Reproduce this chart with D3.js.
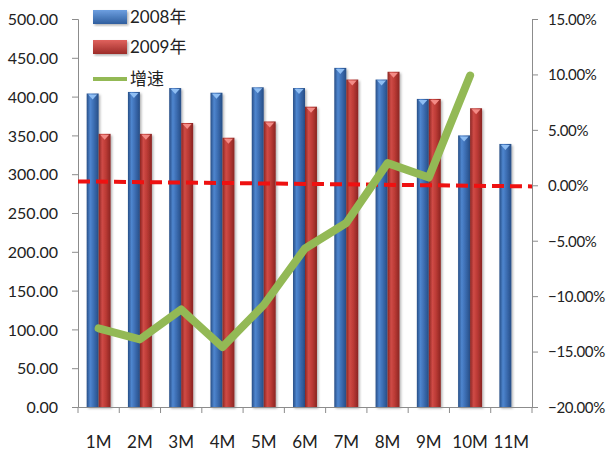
<!DOCTYPE html>
<html>
<head>
<meta charset="utf-8">
<script src="https://cdn.jsdelivr.net/npm/d3@7"></script>
<style>
  html, body { margin: 0; padding: 0; background: #fff; }
  svg text { font-family: "Lato", "Noto Sans CJK SC", sans-serif; fill: #222; }
</style>
</head>
<body>
<svg id="chart" width="606" height="457"></svg>
<script>
// Monthly categories
const months = ["1M", "2M", "3M", "4M", "5M", "6M", "7M", "8M", "9M", "10M", "11M"];
// Volume by month, 2008
const values2008 = [404, 406, 411, 405, 412, 411, 437, 422, 397, 350, 339];
// Volume by month, 2009 (through 10M)
const values2009 = [352, 352, 366, 347, 368, 387, 422, 432, 397, 385, null];
// Year-on-year growth, percent
const growth = [-12.9, -13.9, -11.2, -14.6, -10.8, -5.7, -3.4, 2.0, 0.7, 9.9, null];
// Zero-growth reference line, percent at its two ends
const zeroRef = [0.35, -0.1];
// Axis ticks
const leftTicks = [0, 50, 100, 150, 200, 250, 300, 350, 400, 450, 500];
const rightTicks = [-20, -15, -10, -5, 0, 5, 10, 15];
// Legend labels
const seriesNames = ["2008年", "2009年", "增速"];

const svg = d3.select("#chart");
const plot = { left: 78, right: 532, top: 19, bottom: 407 };

const x = d3.scaleBand().domain(months).range([plot.left, plot.right]).paddingInner(0).paddingOuter(0);
const yL = d3.scaleLinear().domain([0, 500]).range([plot.bottom, plot.top]);
const yR = d3.scaleLinear().domain([-20, 15]).range([plot.bottom, plot.top]);

const defs = svg.append("defs");
function barGradient(id, dark, mid, light) {
  const g = defs.append("linearGradient").attr("id", id)
    .attr("x1", "0").attr("x2", "1").attr("y1", "0").attr("y2", "0");
  g.append("stop").attr("offset", "0%").attr("stop-color", dark);
  g.append("stop").attr("offset", "30%").attr("stop-color", light);
  g.append("stop").attr("offset", "60%").attr("stop-color", mid);
  g.append("stop").attr("offset", "100%").attr("stop-color", dark);
}
barGradient("gBlue", "#264d85", "#3c6db2", "#4f86cf");
barGradient("gRed", "#8a2522", "#bb3a35", "#cf4b46");
const sh = defs.append("filter").attr("id", "shadow").attr("x", "-30%").attr("y", "-10%").attr("width", "160%").attr("height", "130%");
sh.append("feDropShadow").attr("dx", 1.5).attr("dy", 1.5).attr("stdDeviation", 1.2).attr("flood-color", "#000").attr("flood-opacity", 0.3);

// Axes lines
const axisColor = "#8c8c8c";
const gAxes = svg.append("g");
const leftAxis = d3.axisLeft(yL).tickValues(leftTicks).tickSize(6).tickFormat(d => d3.format(".2f")(d));
const la = gAxes.append("g").attr("transform", `translate(${plot.left},0)`).call(leftAxis);
la.select(".domain").attr("stroke", axisColor);
la.selectAll(".tick line").attr("stroke", axisColor);
la.selectAll(".tick text").attr("x", -20).attr("dy", "0.36em").style("font-size", "16px").attr("fill", "#222");

const rightAxis = d3.axisRight(yR).tickValues(rightTicks).tickSize(6).tickFormat(d => d3.format(".2f")(d) + "%");
const ra = gAxes.append("g").attr("transform", `translate(${plot.right},0)`).call(rightAxis);
ra.select(".domain").attr("stroke", axisColor);
ra.selectAll(".tick line").attr("stroke", axisColor);
ra.selectAll(".tick text").attr("x", 16).attr("dy", "0.36em").style("font-size", "15px")
  .style("letter-spacing", "-0.3px").attr("fill", "#222");

// Bars
const barW = x.bandwidth() * 0.29;
const gap = (x.bandwidth() - 2 * barW) / 2;
const series = [
  { vals: values2008, fill: "url(#gBlue)", cap: "#8fbef3", off: 0 },
  { vals: values2009, fill: "url(#gRed)", cap: "#f38b86", off: 1 }
];
series.forEach(s => {
  const g = svg.append("g");
  const data = months.map((m, i) => ({ m, v: s.vals[i] })).filter(d => d.v != null);
  g.selectAll("rect").data(data).join("rect")
    .attr("x", d => x(d.m) + gap + s.off * barW)
    .attr("y", d => yL(d.v))
    .attr("width", barW)
    .attr("height", d => yL(0) - yL(d.v))
    .attr("fill", s.fill)
    .attr("filter", "url(#shadow)");
  g.selectAll("path").data(data).join("path")
    .attr("d", d => {
      const x0 = x(d.m) + gap + s.off * barW, y0 = yL(d.v);
      return `M${x0 + 1.5},${y0 + 1}L${x0 + barW - 1.5},${y0 + 1}L${x0 + barW / 2},${y0 + 6}Z`;
    })
    .attr("fill", s.cap);
});

// X-axis (drawn above bars)
const bottomAxis = d3.axisBottom(x).tickSize(0);
const ba = gAxes.raise().append("g").attr("transform", `translate(0,${plot.bottom})`).call(bottomAxis);
ba.select(".domain").attr("stroke", axisColor);
ba.selectAll(".tick text").attr("y", 29).attr("dy", "0.71em").style("font-size", "17px").attr("fill", "#222");
ba.selectAll(".sep").data(d3.range(months.length + 1)).join("line")
  .attr("class", "sep")
  .attr("x1", i => plot.left + i * x.step()).attr("x2", i => plot.left + i * x.step())
  .attr("y1", 0).attr("y2", 6).attr("stroke", axisColor);

// Zero-growth reference line
svg.append("line")
  .attr("x1", plot.left).attr("x2", plot.right)
  .attr("y1", yR(zeroRef[0])).attr("y2", yR(zeroRef[1]))
  .attr("stroke", "#ee1111").attr("stroke-width", 4)
  .attr("stroke-dasharray", "12,6");

// Growth line
const lineData = months.map((m, i) => ({ m, v: growth[i] })).filter(d => d.v != null);
svg.append("path")
  .datum(lineData)
  .attr("d", d3.line().x(d => x(d.m) + x.bandwidth() / 2).y(d => yR(d.v)))
  .attr("fill", "none")
  .attr("stroke", "#93b955")
  .attr("stroke-width", 8)
  .attr("stroke-linecap", "round")
  .attr("stroke-linejoin", "round");

// Legend
const lg = svg.append("g");
const lgGrad = defs.append("linearGradient").attr("id", "lgBlue").attr("x1", 0).attr("x2", 0).attr("y1", 0).attr("y2", 1);
lgGrad.append("stop").attr("offset", "0%").attr("stop-color", "#6d9fe0");
lgGrad.append("stop").attr("offset", "100%").attr("stop-color", "#2f5e9e");
const lgGrad2 = defs.append("linearGradient").attr("id", "lgRed").attr("x1", 0).attr("x2", 0).attr("y1", 0).attr("y2", 1);
lgGrad2.append("stop").attr("offset", "0%").attr("stop-color", "#e0625d");
lgGrad2.append("stop").attr("offset", "100%").attr("stop-color", "#9c2c29");
const legendRows = [
  { name: seriesNames[0], type: "bar", fill: "url(#lgBlue)", y: 17 },
  { name: seriesNames[1], type: "bar", fill: "url(#lgRed)", y: 47 },
  { name: seriesNames[2], type: "line", fill: "#93b955", y: 79 }
];
legendRows.forEach(r => {
  if (r.type === "bar") {
    lg.append("rect").attr("x", 93).attr("y", r.y - 7).attr("width", 34).attr("height", 14)
      .attr("fill", r.fill).attr("filter", "url(#shadow)");
  } else {
    lg.append("line").attr("x1", 93).attr("x2", 127).attr("y1", r.y).attr("y2", r.y)
      .attr("stroke", r.fill).attr("stroke-width", 4);
  }
  lg.append("text").attr("x", 130).attr("y", r.y).attr("dy", "0.36em")
    .style("font-size", "17px").text(r.name);
});
</script>
</body>
</html>
